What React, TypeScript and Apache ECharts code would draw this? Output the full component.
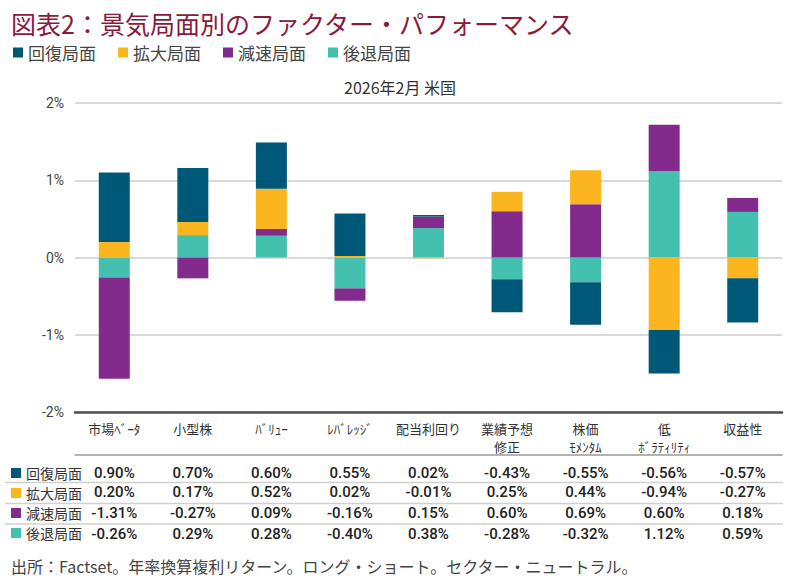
import React, { useEffect, useRef } from "react";
import * as echarts from "echarts";

const categories = [
  "市場ﾍﾞｰﾀ",
  "小型株",
  "ﾊﾞﾘｭｰ",
  "ﾚﾊﾞﾚｯｼﾞ",
  "配当利回り",
  "業績予想\n修正",
  "株価\nﾓﾒﾝﾀﾑ",
  "低\nﾎﾞﾗﾃｨﾘﾃｨ",
  "収益性",
];

const recovery = [0.9, 0.7, 0.6, 0.55, 0.02, -0.43, -0.55, -0.56, -0.57];
const expansion = [0.2, 0.17, 0.52, 0.02, -0.01, 0.25, 0.44, -0.94, -0.27];
const slowdown = [-1.31, -0.27, 0.09, -0.16, 0.15, 0.6, 0.69, 0.6, 0.18];
const recession = [-0.26, 0.29, 0.28, -0.4, 0.38, -0.28, -0.32, 1.12, 0.59];

const phaseNames = ["回復局面", "拡大局面", "減速局面", "後退局面"];
const phaseColors = ["#005878", "#fbb51f", "#832b8c", "#43c0ae"];
const phaseValues = [recovery, expansion, slowdown, recession];

const yTicks = { min: -2, max: 2, interval: 1 };

const title = "図表2：景気局面別のファクター・パフォーマンス";
const subtitle = "2026年2月 米国";
const footnote = "出所：Factset。年率換算複利リターン。ロング・ショート。セクター・ニュートラル。";

const fmt = (v: number) => `${v.toFixed(2)}%`;

export default function App() {
  const ref = useRef<HTMLDivElement>(null);

  useEffect(() => {
    if (!ref.current) return;
    const chart = echarts.init(ref.current, null, { renderer: "svg" });
    const cjk = "'Noto Sans CJK JP', sans-serif";
    const num = "Roboto, 'Noto Sans CJK JP', sans-serif";

    const rowMargins = [10, 29.5, 50.5, 71.5];
    const rowAxes = phaseValues.map((vals, r) => ({
      type: "category" as const,
      data: categories,
      gridIndex: 0,
      position: "bottom" as const,
      offset: 43,
      axisLine: r === 0 ? { show: true, lineStyle: { color: "#9a9a9a", width: 1.5 } } : { show: false },
      axisTick: { show: false },
      splitLine: { show: false },
      axisLabel: {
        interval: 0,
        margin: rowMargins[r],
        fontSize: 15,
        fontFamily: num,
        fontWeight: 500,
        color: "#222",
        formatter: (_v: string, i: number) => fmt(vals[i]),
      },
    }));

    // stacking order from zero outward: recession, slowdown, expansion, recovery
    const stackOrder = [3, 2, 1, 0];
    const series = stackOrder.map((k) => ({
      name: phaseNames[k],
      type: "bar" as const,
      stack: "total",
      barWidth: 31,
      xAxisIndex: 0,
      itemStyle: { color: phaseColors[k] },
      data: phaseValues[k],
    }));

    const legendData = phaseNames.map((n, i) => ({ name: n, itemStyle: { color: phaseColors[i] } }));

    chart.setOption({
      animation: false,
      color: phaseColors,
      title: [
        {
          text: title,
          left: 6,
          top: 5,
          textStyle: { fontSize: 25, fontWeight: "normal", color: "#8a1a3c", fontFamily: cjk },
        },
        {
          text: subtitle,
          left: "center",
          top: 74,
          textStyle: { fontSize: 16, fontWeight: "normal", color: "#333", fontFamily: cjk },
        },
        {
          text: footnote,
          left: 6,
          top: 553,
          textStyle: { fontSize: 16, fontWeight: "normal", color: "#444", fontFamily: cjk },
        },
      ],
      legend: [
        {
          data: legendData,
          left: 8,
          top: 39,
          icon: "rect",
          itemWidth: 10,
          itemHeight: 10,
          itemGap: 22,
          textStyle: { fontSize: 17, color: "#444", fontFamily: cjk },
          selectedMode: false,
        },
        {
          data: legendData,
          orient: "vertical",
          left: 6,
          top: 461,
          icon: "rect",
          itemWidth: 10,
          itemHeight: 10,
          itemGap: 6,
          textStyle: { fontSize: 14, lineHeight: 14, color: "#333", fontFamily: cjk },
          selectedMode: false,
        },
      ],
      grid: { left: 75, right: 18, top: 103, bottom: 171, containLabel: false },
      xAxis: [
        {
          type: "category",
          data: categories,
          axisLine: { show: false },
          axisTick: { show: false },
          axisLabel: {
            interval: 0,
            margin: 7,
            fontSize: 13,
            lineHeight: 18,
            color: "#333",
            fontFamily: cjk,
          },
        },
        ...rowAxes,
        {
          type: "category",
          data: categories,
          position: "bottom",
          axisLine: { show: true, onZero: true, lineStyle: { color: "#505050", width: 2.5 } },
          axisTick: { show: false },
          axisLabel: { show: false },
        },
      ],
      yAxis: {
        type: "value",
        min: yTicks.min,
        max: yTicks.max,
        interval: yTicks.interval,
        axisLine: { show: false },
        axisTick: { show: false },
        axisLabel: {
          margin: 11,
          fontSize: 14,
          color: "#444",
          fontFamily: num,
          formatter: (v: number) => `${v}%`,
        },
        splitLine: { lineStyle: { color: "#d9d9d9", width: 2 } },
      },
      graphic: [
        { type: "line", shape: { x1: 5, y1: 482.5, x2: 783, y2: 482.5 }, style: { stroke: "#d0d0d0", lineWidth: 1.5 } },
        { type: "line", shape: { x1: 5, y1: 503.5, x2: 783, y2: 503.5 }, style: { stroke: "#d0d0d0", lineWidth: 1.5 } },
        { type: "line", shape: { x1: 5, y1: 524, x2: 783, y2: 524 }, style: { stroke: "#d0d0d0", lineWidth: 1.5 } },
      ],
      series,
    });

    return () => chart.dispose();
  }, []);

  return (
    <div
      ref={ref}
      style={{ position: "fixed", left: 0, top: 0, width: 800, height: 583, background: "#fff" }}
    />
  );
}
